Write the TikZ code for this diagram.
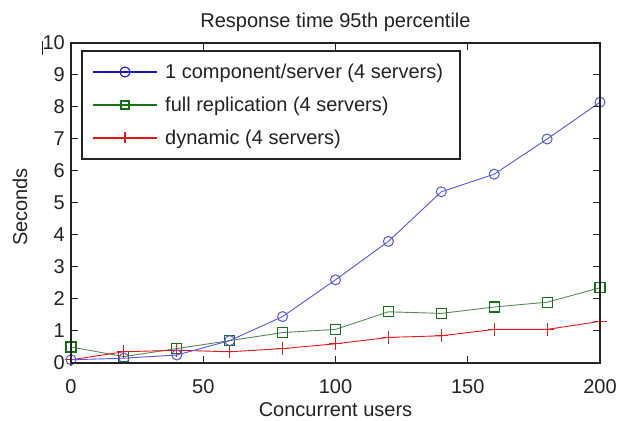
\documentclass[tikz,border=0pt]{standalone}
\usepackage{fontspec}
\setmainfont{Liberation Sans}
\usetikzlibrary{plotmarks}

\definecolor{serblue}{RGB}{85,85,230}
\definecolor{serbluedark}{RGB}{20,20,200}
\definecolor{sergreen}{RGB}{20,115,20}
\definecolor{sergreenline}{RGB}{90,135,90}
\definecolor{serred}{RGB}{230,25,25}
\definecolor{axisgray}{RGB}{35,35,35}

\tikzset{
  txt/.style={font=\fontsize{20}{24}\selectfont, text=axisgray, inner sep=0pt},
  frame/.style={draw=axisgray, line width=1.3pt},
  tickmark/.style={draw=axisgray, line width=1pt},
  curve/.style={line width=0.9pt},
  legendline/.style={line width=1.1pt},
}

\begin{document}
\begin{tikzpicture}[x=1pt,y=1pt]
\useasboundingbox (0,0) rectangle (620,420);

% plotting area: data units mapped onto the axes box
\begin{scope}[shift={(71,57)}, x=2.645pt, y=32pt]
  % data series
  \draw[curve, sergreenline] plot[mark=square, mark size=5pt,
        mark options={draw=sergreen, line width=1.1pt}]
    coordinates {(0,0.5) (20,0.2) (40,0.45) (60,0.7) (80,0.95) (100,1.05)
                 (120,1.6) (140,1.55) (160,1.75) (180,1.9) (200,2.35)};
  \draw[curve, serred] plot[mark=+, mark size=6.5pt,
        mark options={line width=1.1pt}]
    coordinates {(0,0.1) (20,0.35) (40,0.4) (60,0.35) (80,0.45) (100,0.6)
                 (120,0.8) (140,0.85) (160,1.05) (180,1.05) (200,1.3)};
  \draw[curve, serblue] plot[mark=o, mark size=5pt,
        mark options={line width=1pt}]
    coordinates {(0,0.1) (20,0.15) (40,0.25) (60,0.7) (80,1.45) (100,2.6)
                 (120,3.8) (140,5.35) (160,5.9) (180,7.0) (200,8.15)};

  % axes box with inward ticks
  \draw[frame] (0,0) rectangle (200,10);
  \foreach \xv in {0,50,100,150,200} {
    \draw[tickmark] (\xv,0) -- ++(0,7pt);
    \draw[tickmark] (\xv,10) -- ++(0,-7pt);
    \node[txt, anchor=base] (xt\xv) at ([yshift=-30pt]\xv,0) {\xv};
  }
  \foreach \yv in {0,...,10} {
    \draw[tickmark] (0,\yv) -- ++(7pt,0);
    \draw[tickmark] (200,\yv) -- ++(-7pt,0);
    \node[txt, anchor=east] (yt\yv) at ([xshift=-6pt]0,\yv) {\yv};
  }
\end{scope}

% small stray mark left of the top label
\coordinate (barA) at (42.5,365);
\coordinate (barB) at (42.5,379);
\draw[axisgray, line width=1pt] (barA) -- (barB);

% legend
\draw[frame, fill=white] (82,261) rectangle (460,369);
\coordinate (la1) at (93,348);  \coordinate (lb1) at (157,348);
\coordinate (la2) at (93,315);  \coordinate (lb2) at (157,315);
\coordinate (la3) at (93,282);  \coordinate (lb3) at (157,282);
\draw[legendline, serbluedark] (la1) -- (lb1);
\draw[legendline, serbluedark] (125,348) circle (5pt);
\draw[legendline, sergreen] (la2) -- (lb2);
\draw[legendline, sergreen] (121,311) rectangle (129,319);
\draw[legendline, serred] (la3) -- (lb3);
\draw[legendline, serred] (125,276.5) -- (125,287.5);
\node[txt, anchor=base west] (leg1) at (165,341) {1 component/server (4 servers)};
\node[txt, anchor=base west] (leg2) at (165,308) {full replication (4 servers)};
\node[txt, anchor=base west] (leg3) at (165,275) {dynamic (4 servers)};

% titles
\node[txt, anchor=base] (title) at (335.5,392) {Response time 95th percentile};
\node[txt, anchor=base] (xlabel) at (335.5,4) {Concurrent users};
\node[txt, rotate=90] (ylabel) at (20,213) {Seconds};
\end{tikzpicture}
\end{document}
